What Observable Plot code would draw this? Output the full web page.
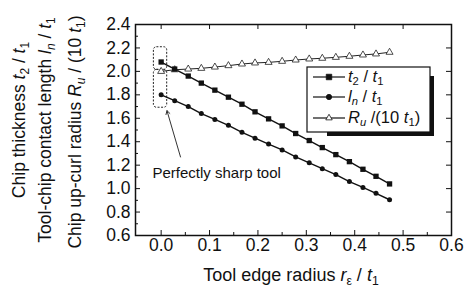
<!DOCTYPE html>
<html><head><meta charset="utf-8">
<script src="https://cdn.jsdelivr.net/npm/d3@7"></script>
<script src="https://cdn.jsdelivr.net/npm/@observablehq/plot@0.6"></script>
<style>body{margin:0;background:#fff} #c{width:464px;height:297px}</style>
</head><body><div id="c"></div><script>
// Data
const radius = [0, 0.028, 0.056, 0.083, 0.111, 0.139, 0.167, 0.194, 0.222, 0.25, 0.278, 0.306, 0.333, 0.361, 0.389, 0.417, 0.444, 0.472];
const t2t1 = [2.08, 2.02, 1.96, 1.90, 1.84, 1.78, 1.72, 1.655, 1.595, 1.535, 1.47, 1.41, 1.35, 1.29, 1.23, 1.165, 1.105, 1.04];
const lnt1 = [1.80, 1.75, 1.70, 1.64, 1.59, 1.54, 1.48, 1.43, 1.38, 1.33, 1.27, 1.22, 1.17, 1.12, 1.06, 1.01, 0.96, 0.905];
const rut1 = [2.00, 2.014, 2.02, 2.026, 2.037, 2.049, 2.063, 2.072, 2.077, 2.086, 2.097, 2.106, 2.112, 2.12, 2.129, 2.14, 2.149, 2.163];
const xMajor = [0, 0.1, 0.2, 0.3, 0.4, 0.5, 0.6];
const xMinor = [0.05, 0.15, 0.25, 0.35, 0.45, 0.55];
const yMajor = [0.6, 0.8, 1.0, 1.2, 1.4, 1.6, 1.8, 2.0, 2.2, 2.4];
const yMinor = [0.7, 0.9, 1.1, 1.3, 1.5, 1.7, 1.9, 2.1, 2.3];
const boxes = [{x1: -0.015, x2: 0.0125, y1: 2.013, y2: 2.206}, {x1: -0.015, x2: 0.0125, y1: 1.69, y2: 2.013}];
const arrowNote = [{x1: 0.04, y1: 1.27, x2: 0.012, y2: 1.665}];
const note = [{x: -0.018, y: 1.135, text: "Perfectly sharp tool"}];

const W = 464, H = 297, ML = 135, MR = 13, MT = 24, MB = 62;
const FW = W - ML - MR, FH = H - MT - MB;
const font = "Liberation Sans, Arial, sans-serif";
const fmt = d3.format(".1f");
const rows = radius.map((r, i) => ({r, t2: t2t1[i], ln: lnt1[i], ru: rut1[i]}));

const chart = Plot.plot({
  width: W, height: H,
  marginLeft: ML, marginRight: MR, marginTop: MT, marginBottom: MB,
  style: {fontFamily: font, background: "white"},
  x: {domain: [-0.053, 0.6], axis: null},
  y: {domain: [0.6, 2.4], axis: null},
  marks: [
    Plot.rect(boxes, {x1: "x1", x2: "x2", y1: "y1", y2: "y2", fill: "none", stroke: "#222", strokeWidth: 1, strokeDasharray: "2,1.5", rx: 3}),
    Plot.arrow(arrowNote, {x1: "x1", y1: "y1", x2: "x2", y2: "y2", stroke: "#333", strokeWidth: 1, headLength: 6}),
    Plot.text(note, {x: "x", y: "y", text: "text", textAnchor: "start", fontSize: 15, fill: "#111"}),
    Plot.line(rows, {x: "r", y: "ru", stroke: "#222", strokeWidth: 1}),
    Plot.line(rows, {x: "r", y: "t2", stroke: "#111", strokeWidth: 1.4}),
    Plot.line(rows, {x: "r", y: "ln", stroke: "#111", strokeWidth: 1.4}),
    Plot.dot(rows, {x: "r", y: "ru", symbol: "triangle", r: 2.6, fill: "white", stroke: "#222", strokeWidth: 0.8}),
    Plot.dot(rows, {x: "r", y: "t2", symbol: "square", r: 3, fill: "#111"}),
    Plot.dot(rows, {x: "r", y: "ln", symbol: "circle", r: 2.5, fill: "#111"}),
    // inward ticks
    Plot.tickX(xMajor, {x: d => d, insetTop: FH - 5, stroke: "#111"}),
    Plot.tickX(xMinor, {x: d => d, insetTop: FH - 3, stroke: "#111"}),
    Plot.tickX(xMajor, {x: d => d, insetBottom: FH - 5, stroke: "#111"}),
    Plot.tickY(yMajor, {y: d => d, insetRight: FW - 5, stroke: "#111"}),
    Plot.tickY(yMinor, {y: d => d, insetRight: FW - 3, stroke: "#111"}),
    Plot.tickY(yMajor, {y: d => d, insetLeft: FW - 5, stroke: "#111"}),
    // tick labels
    Plot.text(xMajor, {x: d => d, text: d => fmt(d), frameAnchor: "bottom", dy: 15, fontSize: 17.5, fill: "#111"}),
    Plot.text(yMajor, {y: d => d, text: d => fmt(d), frameAnchor: "left", textAnchor: "end", dx: -5, fontSize: 17.5, fill: "#111"}),
    Plot.frame({stroke: "#111", strokeWidth: 1.5})
  ]
});
document.getElementById("c").appendChild(chart);

const svg = d3.select(chart);
function rich(t, parts, size, shift) {
  parts.forEach(p => {
    const s = t.append("tspan").text(p.t);
    if (p.i) s.attr("font-style", "italic");
    if (p.sub) s.attr("font-size", size * 0.68).attr("dy", shift);
    if (p.up) s.attr("dy", -shift);
  });
}
// y title (three lines)
const yLines = [
  {x: 25, y: 120, parts: [{t: "Chip thickness "}, {t: "t", i: 1}, {t: "2", sub: 1}, {t: " / ", up: 1}, {t: "t", i: 1}, {t: "1", sub: 1}]},
  {x: 51, y: 130, parts: [{t: "Tool-chip contact length "}, {t: "l", i: 1}, {t: "n", sub: 1, i: 1}, {t: " / ", up: 1}, {t: "t", i: 1}, {t: "1", sub: 1}]},
  {x: 81, y: 132, parts: [{t: "Chip up-curl radius "}, {t: "R", i: 1}, {t: "u", sub: 1, i: 1}, {t: " / (10 ", up: 1}, {t: "t", i: 1}, {t: "1", sub: 1}, {t: ")", up: 1}]}
];
yLines.forEach(l => {
  const t = svg.append("text").attr("transform", `translate(${l.x},${l.y}) rotate(-90)`)
    .attr("text-anchor", "middle").attr("font-family", font).attr("font-size", 17.5).attr("fill", "#111");
  rich(t, l.parts, 17.5, 4);
});
// x title
{
  const t = svg.append("text").attr("x", 291).attr("y", 281).attr("text-anchor", "middle")
    .attr("font-family", font).attr("font-size", 18).attr("fill", "#111");
  rich(t, [{t: "Tool edge radius "}, {t: "r", i: 1}, {t: "ε", sub: 1}, {t: " / ", up: 1}, {t: "t", i: 1}, {t: "1", sub: 1}], 18, 4);
}
// legend
{
  const g = svg.append("g");
  const bx = 307, by = 67, bw = 123, bh = 65;
  g.append("path").attr("d", `M${bx + bw},${by + 9}h4v${bh - 5}h-${bw - 16}v-4h${bw - 20}z`).attr("fill", "#111");
  g.append("rect").attr("x", bx).attr("y", by).attr("width", bw).attr("height", bh).attr("fill", "white").attr("stroke", "#111").attr("stroke-width", 1.2);
  const entries = [
    {y: 77, sym: d3.symbolSquare, size: 30, fill: "#111", parts: [{t: "t", i: 1}, {t: "2", sub: 1}, {t: " / ", up: 1}, {t: "t", i: 1}, {t: "1", sub: 1}]},
    {y: 97, sym: d3.symbolCircle, size: 22, fill: "#111", parts: [{t: "l", i: 1}, {t: "n", sub: 1, i: 1}, {t: " / ", up: 1}, {t: "t", i: 1}, {t: "1", sub: 1}]},
    {y: 118, sym: d3.symbolTriangle, size: 18, fill: "white", parts: [{t: "R", i: 1}, {t: "u", sub: 1, i: 1}, {t: " /(10 ", up: 1}, {t: "t", i: 1}, {t: "1", sub: 1}, {t: ")", up: 1}]}
  ];
  entries.forEach(e => {
    g.append("line").attr("x1", 313).attr("x2", 345).attr("y1", e.y).attr("y2", e.y).attr("stroke", "#111").attr("stroke-width", 1.2);
    g.append("path").attr("d", d3.symbol(e.sym, e.size)()).attr("transform", `translate(329,${e.y})`)
      .attr("fill", e.fill).attr("stroke", "#111").attr("stroke-width", 0.8);
    const t = g.append("text").attr("x", 348).attr("y", e.y + 5).attr("text-anchor", "start")
      .attr("font-family", font).attr("font-size", 16.5).attr("fill", "#111");
    rich(t, e.parts, 16.5, 3);
  });
}
</script></body></html>
